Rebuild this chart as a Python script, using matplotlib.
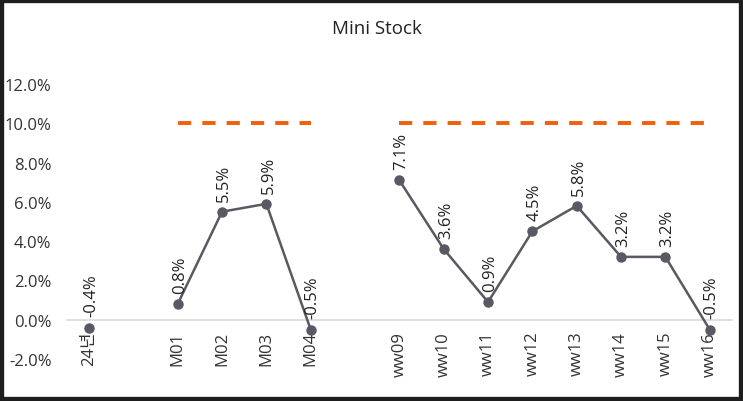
import numpy as np
import matplotlib.pyplot as plt
from matplotlib.patches import Rectangle

plt.rcParams['font.family'] = ['Open Sans', 'Noto Sans CJK KR', 'DejaVu Sans']

# data
categories = ["24년", "", "M01", "M02", "M03", "M04", "",
              "ww09", "ww10", "ww11", "ww12", "ww13", "ww14", "ww15", "ww16"]
stock = [-0.4, np.nan, 0.8, 5.5, 5.9, -0.5, np.nan,
         7.1, 3.6, 0.9, 4.5, 5.8, 3.2, 3.2, -0.5]
target = [np.nan, np.nan, 10, 10, 10, 10, np.nan,
          10, 10, 10, 10, 10, 10, 10, 10]
yticks = [-2, 0, 2, 4, 6, 8, 10, 12]

fig = plt.figure(figsize=(7.43, 4.02), dpi=100)
ax = fig.add_axes([0.09, 0.1045, 0.895, 0.684])

x = np.arange(len(categories))
line_col = "#595963"
ax.plot(x, target, color="#F0600A", lw=2.8, dashes=(3.4, 2.85), zorder=2)
ax.plot(x, stock, color=line_col, lw=1.8, marker="o", ms=6.5, zorder=3)

for xi, v in zip(x, stock):
    if np.isnan(v):
        continue
    ax.annotate(f"{v:.1f}%", (xi, v), xytext=(1.5, 8), textcoords="offset points",
                rotation=90, ha="center", va="bottom", fontsize=12, color="#222222")

ax.set_xlim(-0.5, len(categories) - 0.5)
ax.set_ylim(-2, 12)
ax.set_yticks(yticks)
ax.set_yticklabels([f"{t:.1f}%" for t in yticks])
ax.set_xticks(x)
ax.set_xticklabels(categories)

for s in ["top", "right", "left"]:
    ax.spines[s].set_visible(False)
ax.spines["bottom"].set_position(("data", 0))
ax.spines["bottom"].set_color("#d9d9d9")
ax.spines["bottom"].set_linewidth(1.2)
ax.tick_params(axis="both", length=0, labelsize=12, labelcolor="#333333")
ax.tick_params(axis="y", pad=11)
ax.tick_params(axis="x", pad=8, labelrotation=90)

fig.text(0.507, 0.928, "Mini Stock", ha="center", va="center", fontsize=13.5, color="#222222")

# dark frame around the picture
fig.patches.append(Rectangle((0, 0), 1, 1, transform=fig.transFigure, fill=False,
                             edgecolor="#1e1e1e", lw=6, zorder=10))

fig.savefig("out.png", dpi=100)
